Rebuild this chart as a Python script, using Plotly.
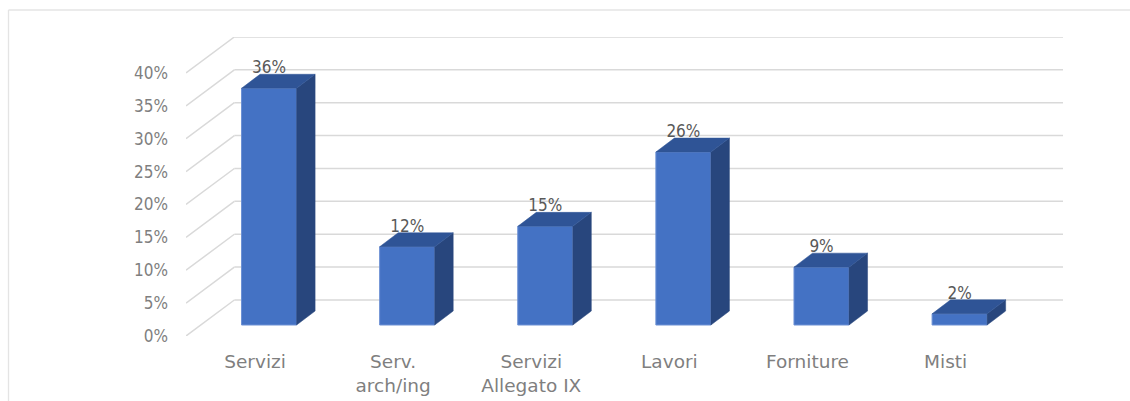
import plotly.graph_objects as go

categories = ["Servizi", "Serv.<br>arch/ing", "Servizi<br>Allegato IX", "Lavori", "Forniture", "Misti"]
values = [36, 11.9, 15, 26.3, 8.8, 1.7]
value_labels = ["36%", "12%", "15%", "26%", "9%", "2%"]
y_ticks = [0, 5, 10, 15, 20, 25, 30, 35, 40]
y_labels = ["0%", "5%", "10%", "15%", "20%", "25%", "30%", "35%", "40%"]

W, H = 1130, 401
L, R, T, B = 186, 67, 37, 65
PX_X = 138.0                # pixels per category
PX_Y = 6.575                # pixels per percent
XMIN, XMAX = -0.5, 5.85
YMAX = 45.47

WALL_DX, WALL_DY = (XMAX - 5.5), 36 / PX_Y       # depth of the floor
BAR_SHIFT_X, BAR_BASE = 14 / PX_X, 11 / PX_Y     # bar position on the floor
BAR_W = 55 / PX_X
BAR_DX, BAR_DY = 18.5 / PX_X, 14 / PX_Y          # depth of a bar
LABEL_DROP = 3 / PX_Y

FRONT, SIDE, TOP = "#4472C4", "#28467D", "#2F5496"
GRID = "#D9D9D9"
FONT = "DejaVu Sans Condensed, DejaVu Sans"

fig = go.Figure()

# front faces
centers = [i + BAR_SHIFT_X for i in range(len(values))]
fig.add_trace(go.Bar(
    x=centers, y=values, base=BAR_BASE, width=BAR_W,
    marker=dict(color=FRONT, line=dict(color="#6C90D4", width=1)),
    hoverinfo="skip", showlegend=False,
))

# side and top faces
for c, v in zip(centers, values):
    x0, x1 = c - BAR_W / 2, c + BAR_W / 2
    top = BAR_BASE + v
    fig.add_trace(go.Scatter(
        x=[x1, x1 + BAR_DX, x1 + BAR_DX, x1, x1],
        y=[BAR_BASE, BAR_BASE + BAR_DY, top + BAR_DY, top, BAR_BASE],
        mode="lines", fill="toself", fillcolor=SIDE, line=dict(color=SIDE, width=0.5),
        hoverinfo="skip", showlegend=False,
    ))
    fig.add_trace(go.Scatter(
        x=[x0, x0 + BAR_DX, x1 + BAR_DX, x1, x0],
        y=[top, top + BAR_DY, top + BAR_DY, top, top],
        mode="lines", fill="toself", fillcolor=TOP, line=dict(color=TOP, width=0.5),
        hoverinfo="skip", showlegend=False,
    ))

# value labels
fig.add_trace(go.Scatter(
    x=centers, y=[BAR_BASE + v + BAR_DY - LABEL_DROP for v in values],
    text=value_labels, mode="text", textposition="top center",
    textfont=dict(family=FONT, size=17, color="#595959"),
    hoverinfo="skip", showlegend=False, cliponaxis=False,
))

# wall gridlines
shapes = []
for t in y_ticks:
    shapes.append(dict(type="line", layer="below", xref="x", yref="y",
                       x0=XMIN, y0=t, x1=XMIN + WALL_DX, y1=t + WALL_DY,
                       line=dict(color=GRID, width=1.5)))
    shapes.append(dict(type="line", layer="below", xref="x", yref="y",
                       x0=XMIN + WALL_DX, y0=t + WALL_DY, x1=XMAX, y1=t + WALL_DY,
                       line=dict(color=GRID, width=1.5)))

# card border
pw, ph = W - L - R, H - T - B
def px(v): return (v - L) / pw
def py(v): return 1 - (v - T) / ph
shapes.append(dict(type="line", xref="paper", yref="paper", layer="below",
                   x0=px(8.5), y0=py(10), x1=px(W), y1=py(10), line=dict(color="#E4E4E4", width=1.3)))
shapes.append(dict(type="line", xref="paper", yref="paper", layer="below",
                   x0=px(8.5), y0=py(10), x1=px(8.5), y1=py(H), line=dict(color="#E4E4E4", width=1.3)))

fig.update_layout(
    width=W, height=H, margin=dict(l=L, r=R, t=T, b=B, pad=0),
    paper_bgcolor="white", plot_bgcolor="white", showlegend=False, shapes=shapes,
    font=dict(family=FONT, size=17, color="#7F7F7F"),
    xaxis=dict(range=[XMIN, XMAX], tickmode="array", tickvals=list(range(len(categories))),
               ticktext=categories, showgrid=False, zeroline=False, showline=False,
               ticks="", ticklabelstandoff=12, tickangle=0, automargin=False,
               tickfont=dict(family="DejaVu Sans", size=18.5, color="#7F7F7F")),
    yaxis=dict(range=[0, YMAX], tickmode="array", tickvals=y_ticks, ticktext=y_labels,
               showgrid=False, zeroline=False, showline=False, ticks="", ticklabelstandoff=17,
               automargin=False),
)
fig.write_html("out.html", config=dict(displayModeBar=False),
               post_script="document.body.style.margin='0';document.body.style.overflow='hidden';")
